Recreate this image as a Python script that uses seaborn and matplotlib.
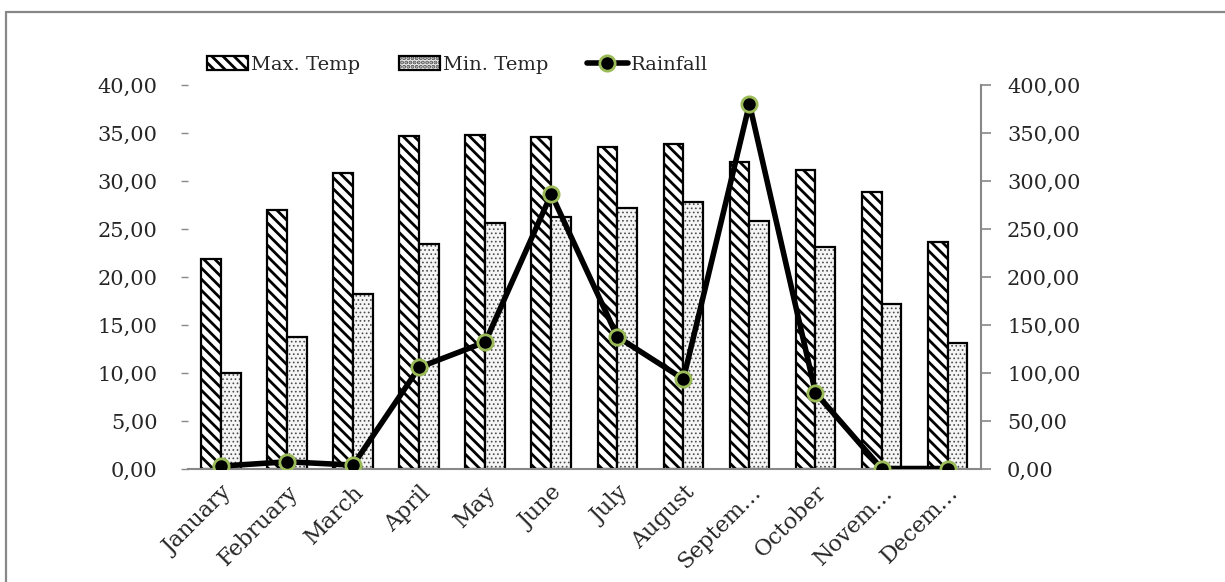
import numpy as np
import pandas as pd
import seaborn as sns
import matplotlib.pyplot as plt
from matplotlib.lines import Line2D
from matplotlib.patches import Patch

months = ["January", "February", "March", "April", "May", "June", "July",
          "August", "Septem…", "October", "Novem…", "Decem…"]
max_temp = [21.9, 27.0, 30.8, 34.7, 34.75, 34.6, 33.5, 33.85, 32.0, 31.15, 28.9, 23.7]
min_temp = [10.0, 13.75, 18.2, 23.4, 25.65, 26.3, 27.2, 27.8, 25.8, 23.15, 17.2, 13.1]
rainfall = [3.1, 7.6, 4.2, 105.9, 132.3, 286.5, 137.8, 93.75, 380.2, 79.5, 0.6, 0.6]

sns.set_style("white")
plt.rcParams['font.family'] = ['DejaVu Serif']
plt.rcParams['hatch.linewidth'] = 2.0


def style_dots(p):
    # light grey dotted fill like the original
    p.set_hatch("....")
    p.set_facecolor("#f5f5f5")
    p._hatch_color = (0.3, 0.3, 0.3, 1.0)
    if hasattr(p, "set_hatch_linewidth"):
        p.set_hatch_linewidth(0.7)
    else:
        p._hatch_linewidth = 0.7


temps = pd.concat([
    pd.DataFrame({"month": months, "temp": max_temp, "series": "Max. Temp"}),
    pd.DataFrame({"month": months, "temp": min_temp, "series": "Min. Temp"}),
])

fig = plt.figure(figsize=(12.25, 5.82), dpi=100)
ax = fig.add_axes([0.1535, 0.194, 0.647, 0.66])

sns.barplot(data=temps, x="month", y="temp", hue="series", order=months,
            palette=["white", "white"], width=0.6, gap=0, dodge=True,
            edgecolor="black", linewidth=1.6, legend=False, ax=ax)

for bar in ax.containers[0]:
    bar.set_hatch("\\\\\\")
for bar in ax.containers[1]:
    style_dots(bar)

ax.set_ylim(0, 40)
ax.set_xlim(-0.5, 11.5)
ax.set_yticks(np.arange(0, 41, 5))
ax.set_yticklabels([f"{v:.2f}".replace(".", ",") for v in np.arange(0, 41, 5)])
ax.set_xlabel("")
ax.set_ylabel("")
ax.set_xticks(range(12))
ax.set_xticklabels(months, rotation=45, ha="right", rotation_mode="anchor")
ax.set_xticks(np.arange(-0.5, 12, 1), minor=True)
ax.tick_params(axis="x", which="major", length=0, labelsize=16, pad=9)
ax.tick_params(axis="x", which="minor", length=7, color="#888888", width=1.2, direction="out")
ax.tick_params(axis="y", length=5, color="#888888", width=1, labelsize=15, pad=17, left=True)
for s in ["top", "right", "left"]:
    ax.spines[s].set_visible(False)
ax.spines["bottom"].set_color("#888888")
ax.spines["bottom"].set_linewidth(1.5)

ax2 = ax.twinx()
sns.lineplot(x=np.arange(12), y=rainfall, ax=ax2, color="black", linewidth=4,
             marker="o", markersize=11, markerfacecolor="black",
             markeredgecolor="#9bbb59", markeredgewidth=2, sort=False, zorder=5)
ax2.set_ylim(0, 400)
ax2.set_yticks(np.arange(0, 401, 50))
ax2.set_yticklabels([f"{v:.2f}".replace(".", ",") for v in np.arange(0, 401, 50)])
ax2.tick_params(axis="y", length=7, color="#888888", width=1.2, labelsize=15, pad=12, direction="out")
for s in ["top", "left", "bottom"]:
    ax2.spines[s].set_visible(False)
ax2.spines["right"].set_color("#888888")
ax2.spines["right"].set_linewidth(1.5)
ax2.set_ylabel("")

min_handle = Patch(edgecolor="black", linewidth=1.6, label="Min. Temp")
style_dots(min_handle)
handles = [
    Patch(facecolor="white", edgecolor="black", hatch="\\\\\\", linewidth=1.6, label="Max. Temp"),
    min_handle,
    Line2D([0], [0], color="black", linewidth=4, marker="o", markersize=11,
           markerfacecolor="black", markeredgecolor="#9bbb59", markeredgewidth=2, label="Rainfall"),
]
fig.legend(handles=handles, loc="center", bbox_to_anchor=(0.3735, 0.889), ncol=3,
           frameon=False, fontsize=14, handlelength=2.1, handletextpad=0.15,
           columnspacing=2.0)

fig.add_artist(Line2D([6 / 1225, 6 / 1225], [0, 1 - 12 / 582], transform=fig.transFigure,
                      color="#888888", linewidth=1.6))
fig.add_artist(Line2D([6 / 1225, 1], [1 - 12 / 582, 1 - 12 / 582], transform=fig.transFigure,
                      color="#888888", linewidth=1.6))

fig.savefig("out.png", dpi=100)
